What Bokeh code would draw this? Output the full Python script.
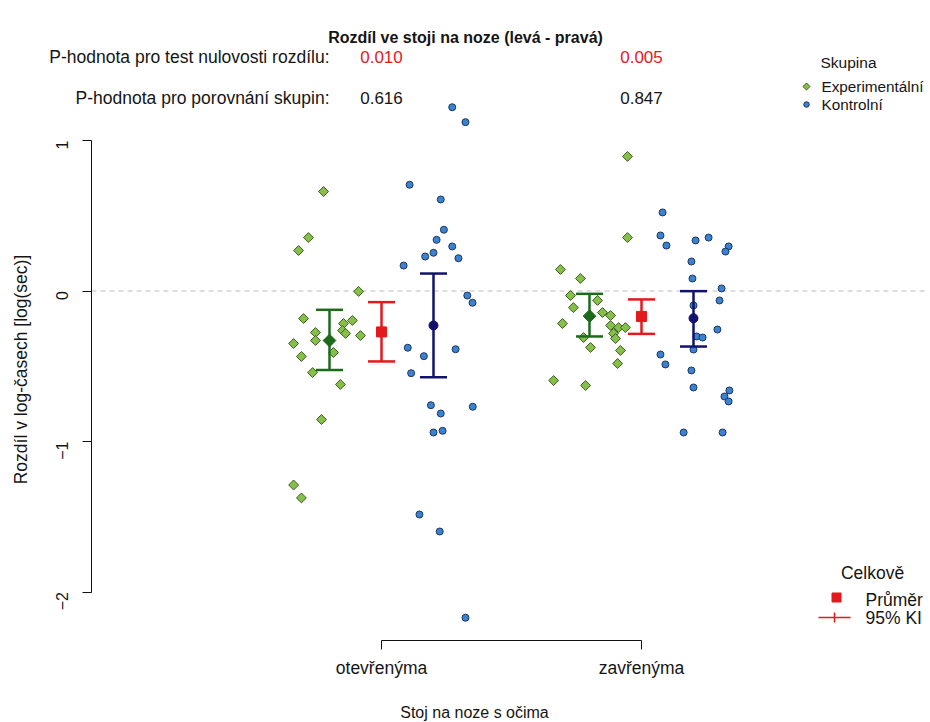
import math
from bokeh.plotting import figure
from bokeh.models import Range1d, FixedTicker, Label
from bokeh.embed import file_html
from bokeh.resources import INLINE

FONT = "Liberation Sans"

# ---------------- data ----------------
group_labels = ["otevřenýma", "zavřenýma"]
group_pos = [1, 2]
exp_shift = -0.2
ctl_shift = 0.2

# Experimental group, eyes open
exp_open_y = [0.661, 0.355, 0.269, -0.003, -0.183, -0.196, -0.216, -0.262, -0.276, -0.282,
              -0.296, -0.329, -0.349, -0.409, -0.435, -0.542, -0.621, -0.854, -1.289, -1.375]
exp_open_jit = [-0.023, -0.081, -0.119, 0.112, -0.100, 0.088, 0.054, 0.050, -0.054, 0.062,
                0.119, -0.054, -0.138, 0.015, -0.108, -0.065, 0.042, -0.031, -0.138, -0.108]
# Experimental group, eyes closed
exp_closed_y = [0.894, 0.355, 0.143, 0.083, -0.030, -0.063, -0.110, -0.143, -0.163, -0.216,
                -0.229, -0.243, -0.243, -0.282, -0.309, -0.316, -0.375, -0.395, -0.482, -0.595, -0.628]
exp_closed_jit = [0.146, 0.146, -0.112, -0.035, -0.073, 0.031, -0.062, 0.050, 0.081, -0.104,
                  0.081, 0.112, 0.138, 0.092, -0.023, 0.100, 0.004, 0.119, 0.108, -0.138, -0.015]
# Control group, eyes open
ctl_open_y = [1.221, 1.122, 0.706, 0.608, 0.407, 0.340, 0.296, 0.254, 0.229, 0.218, 0.169,
              -0.030, -0.078, -0.377, -0.433, -0.387, -0.546, -0.759, -0.769, -0.814, -0.940,
              -0.929, -1.485, -1.598, -2.171]
ctl_open_jit = [0.072, 0.123, -0.092, 0.028, 0.040, 0.012, 0.072, 0.000, -0.032, 0.096, -0.115,
                0.130, 0.150, -0.099, -0.037, 0.085, -0.086, -0.010, 0.151, 0.028, 0.000,
                0.035, -0.054, 0.024, 0.123]
# Control group, eyes closed
ctl_closed_y = [0.522, 0.369, 0.302, 0.336, 0.355, 0.296, 0.262, 0.196, 0.083, 0.017, -0.063,
                -0.096, -0.256, -0.302, -0.309, -0.389, -0.422, -0.488, -0.528, -0.641, -0.661,
                -0.701, -0.734, -0.940, -0.940]
ctl_closed_jit = [-0.119, -0.127, -0.104, 0.008, 0.058, 0.135, 0.123, -0.008, -0.004, 0.108, 0.100,
                  0.000, 0.092, 0.012, 0.035, 0.000, -0.127, -0.108, -0.008, 0.000, 0.138,
                  0.119, 0.135, -0.038, 0.112]

# means and 95% CI
exp_mean = [-0.329, -0.167]
exp_lo = [-0.525, -0.302]
exp_hi = [-0.125, -0.019]
ctl_mean = [-0.229, -0.181]
ctl_lo = [-0.573, -0.369]
ctl_hi = [0.116, -0.001]
all_mean = [-0.272, -0.169]
all_lo = [-0.468, -0.285]
all_hi = [-0.074, -0.056]

p_null = ["0.010", "0.005"]
p_groups = ["0.616", "0.847"]

y_ticks = [-2, -1, 0, 1]
null_value = 0

# ---------------- layout helpers (page pixel -> data) ----------------
def px2x(px):
    return 1 + (px - 381) / 260.0

def px2y(py):
    return (290.5 - py) / 150.5

GREEN_FILL = "#86c04a"
GREEN_LINE = "#3e5e22"
BLUE_FILL = "#3a82d2"
BLUE_LINE = "#1d3560"
DKGREEN = "#1b6b1b"
NAVY = "#12126e"
RED = "#e3191c"
TXT = "#151515"

# frame covers the whole canvas; axes are placed at fixed locations inside it
p = figure(width=930, height=722, output_backend="svg", toolbar_location=None,
           x_range=Range1d(px2x(0), px2x(930)), y_range=Range1d(px2y(722), px2y(0)),
           min_border_left=0, min_border_right=0, min_border_top=0, min_border_bottom=0)
p.outline_line_color = None
p.xgrid.visible = False
p.ygrid.visible = False
p.background_fill_color = "white"

PLOT_LEFT = px2x(91)
PLOT_RIGHT = px2x(928)
PLOT_BOTTOM = px2y(640)

for ax in (p.xaxis[0], p.yaxis[0]):
    ax.axis_line_color = "#111111"
    ax.major_tick_line_color = "#111111"
    ax.major_tick_out = 9
    ax.major_tick_in = 0
    ax.minor_tick_line_color = None
    ax.major_label_text_font = FONT
    ax.major_label_text_color = TXT

p.xaxis.fixed_location = PLOT_BOTTOM
p.xaxis.ticker = FixedTicker(ticks=group_pos)
p.xaxis.major_label_overrides = {g: lab for g, lab in zip(group_pos, group_labels)}
p.xaxis.bounds = (group_pos[0], group_pos[-1])
p.xaxis.major_label_standoff = 8
p.xaxis.major_label_text_font_size = "17.5px"

p.yaxis.fixed_location = PLOT_LEFT
p.yaxis.ticker = FixedTicker(ticks=y_ticks)
p.yaxis.bounds = (y_ticks[0], y_ticks[-1])
p.yaxis.major_label_orientation = math.pi / 2
p.yaxis.major_label_standoff = 21
p.yaxis.major_label_text_font_size = "16px"

# dashed reference line at zero across the plot region
p.segment([PLOT_LEFT], [null_value], [PLOT_RIGHT], [null_value], line_color="#bdbdbd",
          line_dash="5 4", line_width=1)

# jittered points
def scatter_group(vals, jit, center, marker, fill, line, size, angle=0.0):
    xs = [center + j for j in jit]
    p.scatter(xs, vals, marker=marker, size=size, angle=angle,
              fill_color=fill, line_color=line, line_width=1)

scatter_group(exp_open_y, exp_open_jit, group_pos[0] + exp_shift, "square", GREEN_FILL, GREEN_LINE, 7, math.pi / 4)
scatter_group(exp_closed_y, exp_closed_jit, group_pos[1] + exp_shift, "square", GREEN_FILL, GREEN_LINE, 7, math.pi / 4)
scatter_group(ctl_open_y, ctl_open_jit, group_pos[0] + ctl_shift, "circle", BLUE_FILL, BLUE_LINE, 7)
scatter_group(ctl_closed_y, ctl_closed_jit, group_pos[1] + ctl_shift, "circle", BLUE_FILL, BLUE_LINE, 7)

# means with CI
CAP = 0.104
def ci(shift, mean, lo, hi, color, marker, size, angle=0.0):
    xs = [g + shift for g in group_pos]
    p.segment(xs, lo, xs, hi, line_color=color, line_width=2.5)
    p.segment([x - CAP / 2 for x in xs], lo, [x + CAP / 2 for x in xs], lo, line_color=color, line_width=2.5)
    p.segment([x - CAP / 2 for x in xs], hi, [x + CAP / 2 for x in xs], hi, line_color=color, line_width=2.5)
    p.scatter(xs, mean, marker=marker, size=size, angle=angle, fill_color=color, line_color=color)

ci(exp_shift, exp_mean, exp_lo, exp_hi, DKGREEN, "square", 9, math.pi / 4)
ci(0.0, all_mean, all_lo, all_hi, RED, "square", 10)
ci(ctl_shift, ctl_mean, ctl_lo, ctl_hi, NAVY, "circle", 9)

# texts
def lab(x, y, text, size="16px", align="left", color=TXT, style="normal", angle=0.0):
    p.add_layout(Label(x=x, y=y, text=text, text_font=FONT, text_font_size=size,
                       text_align=align, text_baseline="middle", text_color=color,
                       text_font_style=style, angle=angle))

lab(px2x(465), px2y(37), "Rozdíl ve stoji na noze (levá - pravá)", size="16px", align="center", style="bold")
lab(px2x(329), px2y(56), "P-hodnota pro test nulovosti rozdílu:", size="17.5px", align="right")
lab(px2x(329), px2y(97), "P-hodnota pro porovnání skupin:", size="17.5px", align="right")
for g, t in zip(group_pos, p_null):
    lab(g, px2y(56), t, size="17px", align="center", color=RED)
for g, t in zip(group_pos, p_groups):
    lab(g, px2y(97), t, size="17px", align="center")

lab(px2x(474), px2y(712), "Stoj na noze s očima", size="16px", align="center")
lab(px2x(20), px2y(369), "Rozdíl v log-časech [log(sec)]", size="17.5px", align="center", angle=math.pi / 2)

# legend: Skupina
lab(px2x(848), px2y(62), "Skupina", size="15.5px", align="center")
p.scatter([px2x(806)], [px2y(86)], marker="square", size=5, angle=math.pi / 4,
          fill_color=GREEN_FILL, line_color=GREEN_LINE)
p.scatter([px2x(806)], [px2y(104)], marker="circle", size=5.5,
          fill_color=BLUE_FILL, line_color=BLUE_LINE)
lab(px2x(821), px2y(86), "Experimentální", size="15.3px")
lab(px2x(821), px2y(104), "Kontrolní", size="15.3px")

# legend: Celkově
lab(px2x(872), px2y(572), "Celkově", size="17.5px", align="center")
p.scatter([px2x(836)], [px2y(597)], marker="square", size=9, fill_color=RED, line_color=RED)
p.segment([px2x(818)], [px2y(617)], [px2x(850)], [px2y(617)], line_color=RED, line_width=1.5)
p.segment([px2x(834)], [px2y(612)], [px2x(834)], [px2y(622)], line_color=RED, line_width=1.5)
lab(px2x(865), px2y(599), "Průměr", size="17.5px")
lab(px2x(865), px2y(617), "95% KI", size="17.5px")

open("out.html", "w").write(file_html(p, INLINE))
